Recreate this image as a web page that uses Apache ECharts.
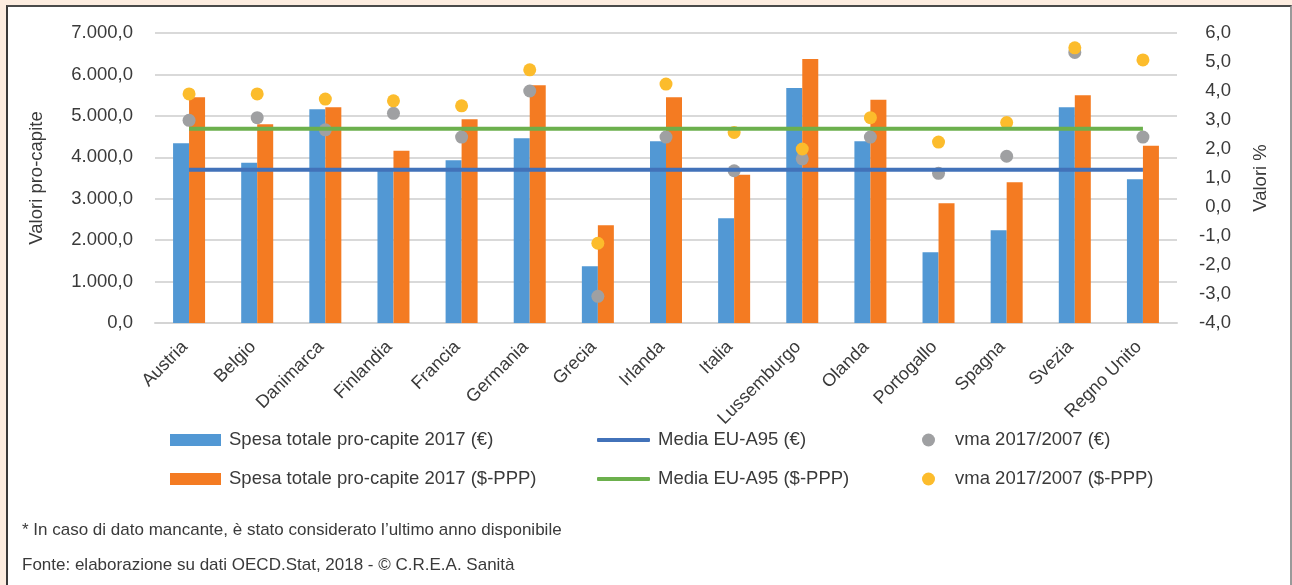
<!DOCTYPE html>
<html>
<head>
<meta charset="utf-8">
<script src="https://cdn.jsdelivr.net/npm/echarts@6/dist/echarts.min.js"></script>
<style>
  html, body { margin: 0; padding: 0; }
  body { width: 1292px; height: 585px; background: #fdede0; position: relative; overflow: hidden; }
  #frame { position: absolute; left: 6px; top: 5px; width: 1282px; height: 600px; background: #ffffff;
           border-left: 2px solid #3a3a3a; border-top: 2px solid #4a4a4a; border-right: 2px solid #9a9a9a; }
  #chart { position: absolute; left: 0; top: 0; width: 1292px; height: 585px; }
</style>
</head>
<body>
<div id="frame"></div>
<div id="chart"></div>
<script>
// ---- data ----
const categories = ['Austria', 'Belgio', 'Danimarca', 'Finlandia', 'Francia', 'Germania', 'Grecia', 'Irlanda',
  'Italia', 'Lussemburgo', 'Olanda', 'Portogallo', 'Spagna', 'Svezia', 'Regno Unito'];
const spesaEUR = [4340, 3870, 5160, 3720, 3930, 4460, 1370, 4390, 2530, 5670, 4390, 1710, 2240, 5210, 3470];
const spesaPPP = [5450, 4800, 5210, 4160, 4920, 5740, 2360, 5450, 3580, 6370, 5390, 2890, 3400, 5500, 4280];
const mediaEUR = [3700, 3700, 3700, 3700, 3700, 3700, 3700, 3700, 3700, 3700, 3700, 3700, 3700, 3700, 3700];
const mediaPPP = [4690, 4690, 4690, 4690, 4690, 4690, 4690, 4690, 4690, 4690, 4690, 4690, 4690, 4690, 4690];
const vmaEUR = [2.99, 3.08, 2.66, 3.23, 2.41, 4.00, -3.08, 2.41, 1.25, 1.66, 2.41, 1.16, 1.75, 5.33, 2.41];
const vmaPPP = [3.90, 3.90, 3.72, 3.66, 3.49, 4.73, -1.25, 4.24, 2.57, 2.00, 3.08, 2.24, 2.91, 5.49, 5.07];
const seriesNames = ['Spesa totale pro-capite 2017 (€)', 'Spesa totale pro-capite 2017 ($-PPP)',
  'Media EU-A95 (€)', 'Media EU-A95 ($-PPP)', 'vma 2017/2007 (€)', 'vma 2017/2007 ($-PPP)'];
const axisNames = ['Valori pro-capite', 'Valori %'];
const footnotes = ['* In caso di dato mancante, è stato considerato l\u2019ultimo anno disponibile',
  'Fonte: elaborazione su dati OECD.Stat, 2018 - © C.R.E.A. Sanità'];

// ---- style ----
const FONT = '"Liberation Sans", Arial, sans-serif';
const TXT = '#3a3a3a';
const C = { blue: '#5298d4', orange: '#f47b22', lineBlue: '#4272b9', green: '#6cb04d', gray: '#9fa0a2', yellow: '#fcbc2c' };

function fmtLeft(v) {
  if (v >= 1000) return Math.floor(v / 1000) + '.' + String(v % 1000).padStart(3, '0') + ',0';
  return v + ',0';
}
function fmtRight(v) { return v.toFixed(1).replace('.', ','); }

const legendText = { fontFamily: FONT, fontSize: 18.5, color: TXT, lineHeight: 20, padding: [0, 0, 0, 3] };
const legendTextDot = Object.assign({}, legendText, { padding: [0, 0, 0, 15] });
function lg(name, left, top, opts) {
  return Object.assign({ data: [name], left: left, top: top, textStyle: legendText, selectedMode: false, padding: 0 }, opts);
}

const chart = echarts.init(document.getElementById('chart'), null, { renderer: 'canvas' });
chart.setOption({
  backgroundColor: 'transparent',
  animation: false,
  grid: { left: 155, right: 115, top: 33, bottom: 262, containLabel: false },
  xAxis: {
    type: 'category', data: categories,
    axisLine: { lineStyle: { color: '#d4d4d4', width: 2 } },
    axisTick: { show: false },
    axisLabel: { interval: 0, rotate: 45, margin: 17, padding: [0, 6, 0, 0], color: TXT, fontFamily: FONT, fontSize: 18 }
  },
  yAxis: [
    {
      type: 'value', min: 0, max: 7000, interval: 1000,
      name: axisNames[0], nameLocation: 'middle', nameRotate: 90, nameGap: 109,
      nameTextStyle: { color: TXT, fontFamily: FONT, fontSize: 18.5 },
      axisLine: { show: false }, axisTick: { show: false },
      axisLabel: { formatter: fmtLeft, color: TXT, fontFamily: FONT, fontSize: 18.5, margin: 22 },
      splitLine: { lineStyle: { color: '#d9d9d9', width: 2 } }
    },
    {
      type: 'value', min: -4, max: 6, interval: 1,
      name: axisNames[1], nameLocation: 'middle', nameRotate: 90, nameGap: 74,
      nameTextStyle: { color: TXT, fontFamily: FONT, fontSize: 18.5 },
      axisLine: { show: false }, axisTick: { show: false },
      axisLabel: { formatter: fmtRight, color: TXT, fontFamily: FONT, fontSize: 18.5, margin: 54, align: 'right' },
      splitLine: { show: false }
    }
  ],
  legend: [
    lg(seriesNames[0], 170, 430, { itemWidth: 51, itemHeight: 12, icon: 'rect' }),
    lg(seriesNames[1], 170, 469, { itemWidth: 51, itemHeight: 12, icon: 'rect' }),
    lg(seriesNames[2], 597, 430, { itemWidth: 53, itemHeight: 4, icon: 'roundRect' }),
    lg(seriesNames[3], 597, 469, { itemWidth: 53, itemHeight: 4, icon: 'roundRect' }),
    lg(seriesNames[4], 922, 430, { itemWidth: 13, itemHeight: 13, icon: 'circle', textStyle: legendTextDot }),
    lg(seriesNames[5], 922, 469, { itemWidth: 13, itemHeight: 13, icon: 'circle', textStyle: legendTextDot })
  ],
  graphic: [
    { type: 'text', left: 22, top: 522, style: { text: footnotes[0], fill: TXT, font: '17px ' + FONT } },
    { type: 'text', left: 22, top: 557, style: { text: footnotes[1], fill: TXT, font: '17px ' + FONT } }
  ],
  series: [
    { name: seriesNames[0], type: 'bar', data: spesaEUR, barWidth: 16, barGap: '0%', itemStyle: { color: C.blue } },
    { name: seriesNames[1], type: 'bar', data: spesaPPP, barWidth: 16, barGap: '0%', itemStyle: { color: C.orange } },
    { name: seriesNames[2], type: 'line', data: mediaEUR, symbol: 'none', lineStyle: { color: C.lineBlue, width: 4 }, itemStyle: { color: C.lineBlue } },
    { name: seriesNames[3], type: 'line', data: mediaPPP, symbol: 'none', lineStyle: { color: C.green, width: 4 }, itemStyle: { color: C.green } },
    { name: seriesNames[4], type: 'scatter', yAxisIndex: 1, data: vmaEUR, symbolSize: 13, itemStyle: { color: C.gray, opacity: 1 } },
    { name: seriesNames[5], type: 'scatter', yAxisIndex: 1, data: vmaPPP, symbolSize: 13, itemStyle: { color: C.yellow, opacity: 1 } }
  ]
});
</script>
</body>
</html>
